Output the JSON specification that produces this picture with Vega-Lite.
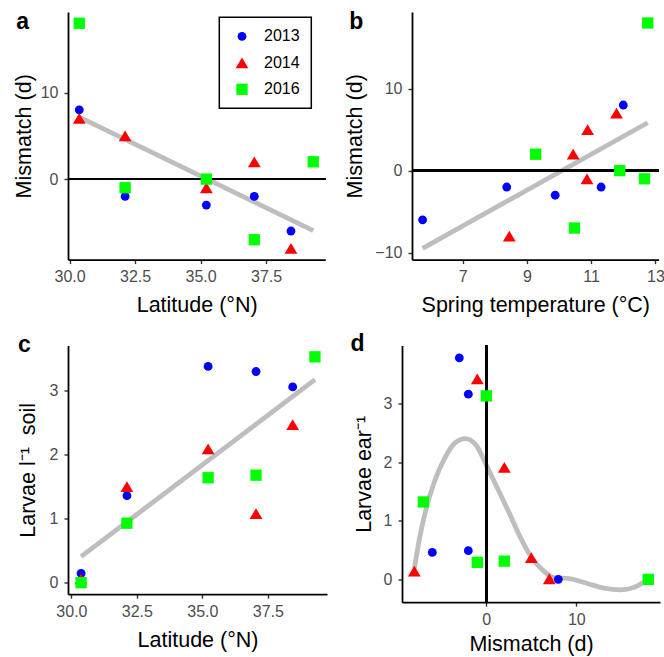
{
  "$schema": "https://vega.github.io/schema/vega-lite/v6.json",
  "padding": {"left": 13, "top": 11, "right": 2, "bottom": 2},
  "config": {
    "font": "Liberation Sans",
    "view": {"stroke": null},
    "axis": {
      "grid": false, "domainColor": "black", "domainWidth": 1.8,
      "tickColor": "#333333", "tickWidth": 1.4, "tickSize": 4,
      "labelColor": "#4D4D4D", "labelFontSize": 16, "labelFont": "Liberation Sans",
      "titleFont": "Liberation Sans", "titleFontSize": 21.5, "titleFontWeight": "normal", "titleColor": "black",
      "labelPadding": 5, "titlePadding": 10, "minExtent": 0, "labelFlush": false, "labelOverlap": false
    },
    "axisY": {"labelPadding": 6},
    "title": {"fontSize": 23, "fontWeight": "bold", "anchor": "start", "frame": "group", "color": "black", "font": "Liberation Sans", "baseline": "alphabetic"}
  },
  "datasets": {
    "obs": [
      {"year": "2013", "lat": 30.37, "temp": 12.0, "mismatch": 8, "soil": 0.145, "ear": 0.0},
      {"year": "2013", "lat": 32.12, "temp": 11.31, "mismatch": -2, "soil": 1.36, "ear": 0.49},
      {"year": "2013", "lat": 35.22, "temp": 9.88, "mismatch": -3, "soil": 3.38, "ear": 3.78},
      {"year": "2013", "lat": 37.05, "temp": 8.37, "mismatch": -2, "soil": 3.30, "ear": 3.16},
      {"year": "2013", "lat": 38.45, "temp": 5.75, "mismatch": -6, "soil": 3.06, "ear": 0.46},
      {"year": "2014", "lat": 30.37, "temp": 11.79, "mismatch": 7, "soil": 0.06, "ear": 0.01},
      {"year": "2014", "lat": 32.12, "temp": 10.89, "mismatch": 5, "soil": 1.50, "ear": 0.37},
      {"year": "2014", "lat": 35.22, "temp": 10.87, "mismatch": -1, "soil": 2.09, "ear": 3.42},
      {"year": "2014", "lat": 37.05, "temp": 10.44, "mismatch": 2, "soil": 1.08, "ear": 1.91},
      {"year": "2014", "lat": 38.45, "temp": 8.45, "mismatch": -8, "soil": 2.47, "ear": 0.14},
      {"year": "2016", "lat": 30.37, "temp": 12.76, "mismatch": 18, "soil": 0.0, "ear": 0.0},
      {"year": "2016", "lat": 32.12, "temp": 12.66, "mismatch": -1, "soil": 0.93, "ear": 0.29},
      {"year": "2016", "lat": 35.22, "temp": 11.89, "mismatch": 0, "soil": 1.64, "ear": 3.13},
      {"year": "2016", "lat": 37.05, "temp": 10.48, "mismatch": -7, "soil": 1.68, "ear": 1.32},
      {"year": "2016", "lat": 39.3, "temp": 9.27, "mismatch": 2, "soil": 3.53, "ear": 0.31}
    ],
    "curve": [
      {"m": -8.0, "fit": 0.18}, {"m": -7.42, "fit": 0.70}, {"m": -6.68, "fit": 1.21}, {"m": -5.76, "fit": 1.67},
      {"m": -4.65, "fit": 2.06}, {"m": -3.54, "fit": 2.32}, {"m": -2.33, "fit": 2.40}, {"m": -1.14, "fit": 2.29},
      {"m": 0.0, "fit": 1.95}, {"m": 1.25, "fit": 1.55}, {"m": 2.55, "fit": 1.13}, {"m": 3.84, "fit": 0.70},
      {"m": 4.95, "fit": 0.39}, {"m": 6.24, "fit": 0.16}, {"m": 7.53, "fit": 0.03}, {"m": 9.38, "fit": 0.01},
      {"m": 11.22, "fit": -0.07}, {"m": 13.07, "fit": -0.15}, {"m": 14.92, "fit": -0.18}, {"m": 16.39, "fit": -0.14},
      {"m": 17.68, "fit": -0.03}, {"m": 18.0, "fit": 0.0}
    ]
  },
  "resolve": {"scale": {"color": "independent", "shape": "independent"}, "legend": {"color": "independent", "shape": "independent"}},
  "spacing": 15.5,
  "vconcat": [
    {
      "spacing": 17,
      "resolve": {"scale": {"color": "independent", "shape": "independent"}, "legend": {"color": "independent", "shape": "independent"}},
      "hconcat": [
        {
          "width": 257.3, "height": 247.6,
          "title": {"text": "a", "dx": -51.7, "offset": -22.3},
          "data": {"name": "obs"},
          "layer": [
            {
              "transform": [{"regression": "mismatch", "on": "lat"}],
              "mark": {"type": "line", "color": "#BEBEBE", "strokeWidth": 4.8, "strokeCap": "butt"},
              "encoding": {
                "x": {"field": "lat", "type": "quantitative", "title": "Latitude (°N)", "scale": {"domain": [29.94, 39.76], "nice": false, "zero": false}, "axis": {"values": [30, 32.5, 35, 37.5], "format": ".1f"}},
                "y": {"field": "mismatch", "type": "quantitative", "title": "Mismatch (d)", "scale": {"domain": [-9.3, 19.3], "nice": false, "zero": false}, "axis": {"values": [0, 10], "titlePadding": 4.5}}
              }
            },
            {
              "mark": {"type": "rule", "color": "black", "strokeWidth": 2},
              "encoding": {
                "y": {"datum": 0, "type": "quantitative", "title": "Mismatch (d)", "scale": {"domain": [-9.3, 19.3], "nice": false, "zero": false}, "axis": {"values": [0, 10], "titlePadding": 4.5}}
              }
            },
            {
              "mark": {"type": "point", "filled": true, "opacity": 1, "size": 78, "strokeWidth": 0},
              "encoding": {
                "x": {"field": "lat", "type": "quantitative", "title": "Latitude (°N)", "scale": {"domain": [29.94, 39.76], "nice": false, "zero": false}, "axis": {"values": [30, 32.5, 35, 37.5], "format": ".1f"}},
                "y": {"field": "mismatch", "type": "quantitative", "title": "Mismatch (d)", "scale": {"domain": [-9.3, 19.3], "nice": false, "zero": false}, "axis": {"values": [0, 10], "titlePadding": 4.5}},
                "color": {"field": "year", "type": "nominal", "scale": {"domain": ["2013", "2014", "2016"], "range": ["#0000FF", "#FF0000", "#00FF00"]},
                  "legend": {"orient": "none", "legendX": 151.3, "legendY": 5.3, "title": null, "padding": 11, "strokeColor": "black",
                    "symbolOffset": 3.7, "labelOffset": 14, "rowPadding": 10.5, "labelFontSize": 16, "labelColor": "black", "labelFont": "Liberation Sans",
                    "symbolSize": 78, "symbolStrokeWidth": 0, "symbolOpacity": 1, "labelExpr": "datum.label + '\u00a0\u00a0\u00a0\u00a0\u00a0'",
                    "encode": {"legend": {"update": {"strokeWidth": {"value": 1.5}}}}}},
                "shape": {"field": "year", "type": "nominal", "scale": {"domain": ["2013", "2014", "2016"], "range": ["circle", "M-1.45,1.22L1.45,1.22L0,-1.22Z", "M-1.28,-1.28L1.28,-1.28L1.28,1.28L-1.28,1.28Z"]}}
              }
            }
          ]
        },
        {
          "width": 246.6, "height": 247.6,
          "title": {"text": "b", "dx": -62.7, "offset": -22.3},
          "data": {"name": "obs"},
          "layer": [
            {
              "transform": [{"regression": "mismatch", "on": "temp"}],
              "mark": {"type": "line", "color": "#BEBEBE", "strokeWidth": 4.8, "strokeCap": "butt"},
              "encoding": {
                "x": {"field": "temp", "type": "quantitative", "title": "Spring temperature (°C)", "scale": {"domain": [5.42, 13.1], "nice": false, "zero": false}, "axis": {"values": [7, 9, 11, 13]}},
                "y": {"field": "mismatch", "type": "quantitative", "title": "Mismatch (d)", "scale": {"domain": [-10.85, 19.34], "nice": false, "zero": false}, "axis": {"values": [-10, 0, 10], "titlePadding": 8}}
              }
            },
            {
              "mark": {"type": "rule", "color": "black", "strokeWidth": 2},
              "encoding": {
                "y": {"datum": 0, "type": "quantitative", "title": "Mismatch (d)", "scale": {"domain": [-10.85, 19.34], "nice": false, "zero": false}, "axis": {"values": [-10, 0, 10], "titlePadding": 8}}
              }
            },
            {
              "mark": {"type": "point", "filled": true, "opacity": 1, "size": 78, "strokeWidth": 0},
              "encoding": {
                "x": {"field": "temp", "type": "quantitative", "title": "Spring temperature (°C)", "scale": {"domain": [5.42, 13.1], "nice": false, "zero": false}, "axis": {"values": [7, 9, 11, 13]}},
                "y": {"field": "mismatch", "type": "quantitative", "title": "Mismatch (d)", "scale": {"domain": [-10.85, 19.34], "nice": false, "zero": false}, "axis": {"values": [-10, 0, 10], "titlePadding": 8}},
                "color": {"field": "year", "type": "nominal", "scale": {"domain": ["2013", "2014", "2016"], "range": ["#0000FF", "#FF0000", "#00FF00"]}, "legend": null},
                "shape": {"field": "year", "type": "nominal", "scale": {"domain": ["2013", "2014", "2016"], "range": ["circle", "M-1.45,1.22L1.45,1.22L0,-1.22Z", "M-1.28,-1.28L1.28,-1.28L1.28,1.28L-1.28,1.28Z"]}, "legend": null}
              }
            }
          ]
        }
      ]
    },
    {
      "spacing": 23,
      "resolve": {"scale": {"color": "independent", "shape": "independent"}, "legend": {"color": "independent", "shape": "independent"}},
      "hconcat": [
        {
          "width": 259, "height": 248.7,
          "title": {"text": "c", "dx": -50, "offset": -11.5},
          "data": {"name": "obs"},
          "layer": [
            {
              "transform": [{"regression": "soil", "on": "lat"}],
              "mark": {"type": "line", "color": "#BEBEBE", "strokeWidth": 4.8, "strokeCap": "butt"},
              "encoding": {
                "x": {"field": "lat", "type": "quantitative", "title": "Latitude (°N)", "scale": {"domain": [29.87, 39.76], "nice": false, "zero": false}, "axis": {"values": [30, 32.5, 35, 37.5], "format": ".1f"}},
                "y": {"field": "soil", "type": "quantitative", "title": "Larvae l⁻¹\u00a0 soil", "scale": {"domain": [-0.18, 3.707], "nice": false, "zero": false}, "axis": {"values": [0, 1, 2, 3], "titlePadding": 10}}
              }
            },
            {
              "mark": {"type": "point", "filled": true, "opacity": 1, "size": 78, "strokeWidth": 0},
              "encoding": {
                "x": {"field": "lat", "type": "quantitative", "title": "Latitude (°N)", "scale": {"domain": [29.87, 39.76], "nice": false, "zero": false}, "axis": {"values": [30, 32.5, 35, 37.5], "format": ".1f"}},
                "y": {"field": "soil", "type": "quantitative", "title": "Larvae l⁻¹\u00a0 soil", "scale": {"domain": [-0.18, 3.707], "nice": false, "zero": false}, "axis": {"values": [0, 1, 2, 3], "titlePadding": 10}},
                "color": {"field": "year", "type": "nominal", "scale": {"domain": ["2013", "2014", "2016"], "range": ["#0000FF", "#FF0000", "#00FF00"]}, "legend": null},
                "shape": {"field": "year", "type": "nominal", "scale": {"domain": ["2013", "2014", "2016"], "range": ["circle", "M-1.45,1.22L1.45,1.22L0,-1.22Z", "M-1.28,-1.28L1.28,-1.28L1.28,1.28L-1.28,1.28Z"]}, "legend": null}
              }
            }
          ]
        },
        {
          "width": 258, "height": 256.7,
          "title": {"text": "d", "dx": -51.6, "offset": -11.5},
          "layer": [
            {
              "data": {"name": "curve"},
              "mark": {"type": "line", "color": "#BEBEBE", "strokeWidth": 4.8, "strokeCap": "butt", "interpolate": "monotone"},
              "encoding": {
                "x": {"field": "m", "type": "quantitative", "title": "Mismatch (d)", "scale": {"domain": [-9.37, 19.3], "nice": false, "zero": false}, "axis": {"values": [0, 10], "titlePadding": 6}},
                "y": {"field": "fit", "type": "quantitative", "title": "Larvae ear⁻¹", "scale": {"domain": [-0.39, 3.99], "nice": false, "zero": false}, "axis": {"values": [0, 1, 2, 3], "titlePadding": 7.5}}
              }
            },
            {
              "data": {"name": "obs"},
              "mark": {"type": "rule", "color": "black", "strokeWidth": 2},
              "encoding": {
                "x": {"datum": 0, "type": "quantitative", "title": "Mismatch (d)", "scale": {"domain": [-9.37, 19.3], "nice": false, "zero": false}, "axis": {"values": [0, 10], "titlePadding": 6}}
              }
            },
            {
              "data": {"name": "obs"},
              "mark": {"type": "point", "filled": true, "opacity": 1, "size": 78, "strokeWidth": 0},
              "encoding": {
                "x": {"field": "mismatch", "type": "quantitative", "title": "Mismatch (d)", "scale": {"domain": [-9.37, 19.3], "nice": false, "zero": false}, "axis": {"values": [0, 10], "titlePadding": 6}},
                "y": {"field": "ear", "type": "quantitative", "title": "Larvae ear⁻¹", "scale": {"domain": [-0.39, 3.99], "nice": false, "zero": false}, "axis": {"values": [0, 1, 2, 3], "titlePadding": 7.5}},
                "color": {"field": "year", "type": "nominal", "scale": {"domain": ["2013", "2014", "2016"], "range": ["#0000FF", "#FF0000", "#00FF00"]}, "legend": null},
                "shape": {"field": "year", "type": "nominal", "scale": {"domain": ["2013", "2014", "2016"], "range": ["circle", "M-1.45,1.22L1.45,1.22L0,-1.22Z", "M-1.28,-1.28L1.28,-1.28L1.28,1.28L-1.28,1.28Z"]}, "legend": null}
              }
            }
          ]
        }
      ]
    }
  ]
}
